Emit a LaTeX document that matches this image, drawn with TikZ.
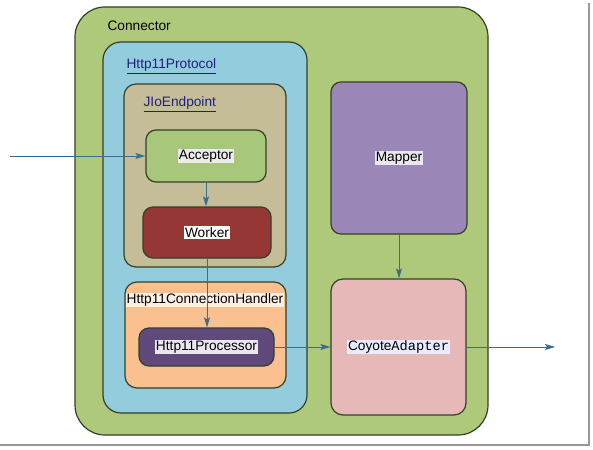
\documentclass[tikz,border=0pt]{standalone}
\usepackage{fontspec}
\setmainfont{Liberation Sans}
\setmonofont{Liberation Mono}
\usetikzlibrary{arrows.meta}

\definecolor{boxline}{HTML}{33402A}
\definecolor{conngreen}{HTML}{AFC97A}
\definecolor{protoblue}{HTML}{93CDDD}
\definecolor{endtan}{HTML}{C4BD97}
\definecolor{accgreen}{HTML}{A9C77B}
\definecolor{workred}{HTML}{953735}
\definecolor{handpeach}{HTML}{FAC090}
\definecolor{procpurple}{HTML}{5F4A7B}
\definecolor{mappurple}{HTML}{9B86B8}
\definecolor{coyopink}{HTML}{E6B9B8}
\definecolor{flowblue}{HTML}{3F6B8C}
\definecolor{linkblue}{HTML}{1F1F80}

\begin{document}
\begin{tikzpicture}[x=1pt, y=-1pt, line width=1.2pt,
		font=\fontsize{13.7}{16}\selectfont,
		box/.style={draw=boxline, rounded corners=#1, inner sep=0pt},
		box/.default=10pt,
		flow/.style={draw=flowblue, line width=1pt, -{Stealth[length=10pt, width=6pt, inset=2pt]}},
		title/.style={anchor=west, inner sep=0pt}]
	\setlength\fboxsep{1pt}
	\fill[white] (0,0) rectangle (593,449);
	\useasboundingbox (0,0) rectangle (593,449);
	\draw[gray!80, line width=2pt] (0,445) -- (589,445) -- (589,3);

	% containers
	\node[box=30pt, fill=conngreen, minimum width=413pt, minimum height=428pt] (connector) at (281.5,221) {};
	\node[box=18pt, fill=protoblue, minimum width=204pt, minimum height=371pt] (protocol) at (205,227.5) {};
	\node[box=12pt, fill=endtan, minimum width=162pt, minimum height=183pt] (endpoint) at (205,175.5) {};
	\node[box=12pt, fill=handpeach, minimum width=161pt, minimum height=106pt] (handler) at (205.5,335) {};

	\node[title] (connectorlabel) at (107,26) {Connector};
	\node[title, text=linkblue] (protocollabel) at (126,66) {\underline{Http11Protocol}};
	\node[title, text=linkblue] (endpointlabel) at (143,104) {\underline{JIoEndpoint}};
	\node[inner sep=1pt, fill=white!75!handpeach] (handlerlabel) at (205,300) {Http11ConnectionHandler};

	% components
	\node[box, fill=accgreen, minimum width=120pt, minimum height=52pt] (acceptor) at (206,156)
		{\colorbox{white!85!gray}{Acceptor}};
	\node[box, fill=workred, minimum width=128pt, minimum height=51pt] (worker) at (207,232.5)
		{\colorbox{white}{Worker}};
	\node[box, fill=procpurple, minimum width=135pt, minimum height=38pt] (processor) at (206.5,347)
		{\colorbox{white!80!mappurple}{Http11Processor}};
	\node[box, fill=mappurple, minimum width=136pt, minimum height=152pt] (mapper) at (399,158)
		{\colorbox{white!80!mappurple}{Mapper}};
	\node[box=12pt, fill=coyopink, minimum width=135pt, minimum height=136pt] (coyote) at (398.5,347)
		{\colorbox{white!92!blue}{Coyote\texttt{Adapter}}};

	\coordinate (in) at (10,156);
	\coordinate (out) at (555,347);
	\draw[flow] (in) -- (acceptor.west);
	\draw[flow] (acceptor.south) -- (acceptor.south |- worker.north);
	\draw[flow] (worker.south) -- (worker.south |- processor.north);
	\draw[flow] (processor.east) -- (processor.east -| coyote.west);
	\draw[flow] (mapper.south) -- (mapper.south |- coyote.north);
	\draw[flow] (coyote.east) -- (out);
\end{tikzpicture}
\end{document}
